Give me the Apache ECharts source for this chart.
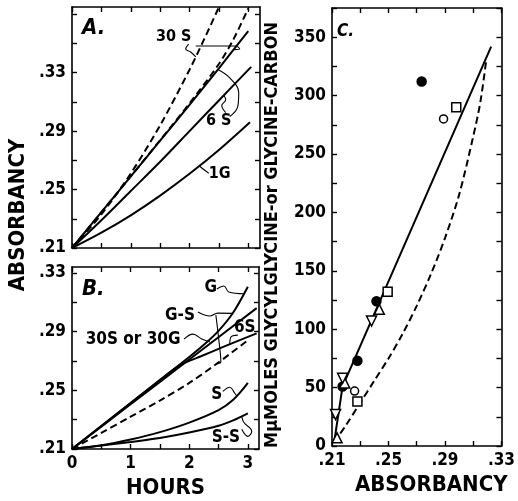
<!DOCTYPE html>
<html>
<head>
<meta charset="utf-8">
<script src="https://cdn.jsdelivr.net/npm/echarts@6/dist/echarts.min.js"></script>
<style>html,body{margin:0;padding:0;background:#fff}#c{width:518px;height:501px}</style>
</head>
<body>
<div id="c"></div>
<script>
// ---------- tick values / labels ----------
const aXTicks = [0, 0.5, 1, 1.5, 2, 2.5, 3];
const aYTicks = [0.21, 0.23, 0.25, 0.27, 0.29, 0.31, 0.33, 0.35, 0.37];
const aYLabels = [0.21, 0.25, 0.29, 0.33];
const bXTicks = [0, 0.5, 1, 1.5, 2, 2.5, 3];
const bXLabels = [0, 1, 2, 3];
const bYTicks = [0.21, 0.23, 0.25, 0.27, 0.29, 0.31, 0.33];
const bYLabels = [0.21, 0.25, 0.29, 0.33];
const cXTicks = [0.21, 0.23, 0.25, 0.27, 0.29, 0.31, 0.33];
const cXLabels = [0.21, 0.25, 0.29, 0.33];
const cYTicks = [0, 25, 50, 75, 100, 125, 150, 175, 200, 225, 250, 275, 300, 325, 350, 375];
const cYLabels = [0, 50, 100, 150, 200, 250, 300, 350];

// ---------- Panel A curves (hours, absorbancy) ----------
const aDash1H = [0, 0.5, 1, 1.5, 2, 2.25, 2.49];
const aDash1V = [0.21, 0.233, 0.261, 0.294, 0.332, 0.353, 0.374];
const aDash2H = [0, 0.5, 1, 1.5, 2, 2.5, 2.75, 3.0];
const aDash2V = [0.21, 0.2345, 0.259, 0.2838, 0.309, 0.336, 0.353, 0.374];
const aUpperH = [0, 0.5, 1, 1.5, 2, 2.5, 3.0];
const aUpperV = [0.21, 0.2345, 0.259, 0.2835, 0.308, 0.333, 0.3585];
const a6SH = [0, 0.5, 1, 1.5, 2, 2.5, 3.05];
const a6SV = [0.21, 0.229, 0.249, 0.269, 0.29, 0.311, 0.334];
const a1GH = [0, 0.5, 1, 1.5, 2, 2.5, 3.03];
const a1GV = [0.21, 0.2205, 0.2324, 0.2459, 0.2608, 0.2771, 0.2961];

// ---------- Panel B curves ----------
const bGH = [0, 0.5, 1, 1.5, 2, 2.25, 2.5, 2.75, 3.0];
const bGV = [0.21, 0.2257, 0.2413, 0.257, 0.2727, 0.281, 0.2905, 0.303, 0.3206];
const bGSH = [0, 1, 2, 3.15];
const bGSV = [0.21, 0.2405, 0.271, 0.306];
const b6SH = [0, 0.5, 1, 1.5, 1.84, 2.2, 2.6, 3.15];
const b6SV = [0.21, 0.2257, 0.2413, 0.257, 0.2672, 0.2732, 0.2799, 0.2888];
const bDashH = [0, 0.5, 1, 1.5, 2, 2.5, 3.03];
const bDashV = [0.21, 0.221, 0.232, 0.243, 0.255, 0.269, 0.285];
const bSH = [0, 0.5, 1, 1.5, 2, 2.5, 2.75, 3.0];
const bSV = [0.21, 0.2125, 0.2165, 0.2215, 0.228, 0.2365, 0.2435, 0.255];
const bSSH = [0, 0.5, 1, 1.5, 2, 2.5, 2.75, 3.0];
const bSSV = [0.21, 0.2123, 0.2148, 0.2175, 0.2212, 0.2258, 0.2295, 0.2343];

// ---------- Panel C (absorbancy, mumoles) ----------
const cLineX = [0.2115, 0.2175, 0.3227];
const cLineY = [3, 51, 342];
const cDashX = [0.2114, 0.22, 0.23, 0.24, 0.25, 0.26, 0.27, 0.28, 0.29, 0.30, 0.31, 0.315, 0.3193];
const cDashY = [3, 18, 37, 56, 75, 96, 120, 147, 178, 215, 265, 294, 331];
const cFilledX = [0.2175, 0.228, 0.2415, 0.2735];
const cFilledY = [51, 73, 124, 312];
const cOpenX = [0.226, 0.289];
const cOpenY = [47, 280];
const cSquareX = [0.228, 0.2494, 0.298];
const cSquareY = [38, 132, 290];
const cTriUpX = [0.2136, 0.219, 0.2435];
const cTriUpY = [7, 54, 117];
const cTriDownX = [0.2125, 0.2175, 0.238];
const cTriDownY = [27, 58, 107];

// ---------- annotation labels & leaders (data coords) ----------
const aLabelText = ['30 S', '6 S', '1G'];
const aLabelH = [1.731, 2.497, 2.514];
const aLabelV = [0.3544, 0.2972, 0.2605];
const aLeaders = [
  [[1.986, 0.3496], [1.935, 0.3462], [2.02, 0.3442], [2.106, 0.3408]],
  [[2.106, 0.3483], [2.787, 0.3483], [2.855, 0.3462], [2.753, 0.3458]],
  [[2.685, 0.300], [2.821, 0.3068], [2.838, 0.3163], [2.685, 0.3265], [2.48, 0.3322]],
  [[2.617, 0.3027], [2.549, 0.3075], [2.617, 0.3115], [2.583, 0.3146]],
  [[2.327, 0.2612], [2.259, 0.2632], [2.174, 0.2660]]
];
const bLabelText = ['G', 'G-S', '30S or 30G', '6S', 'S', 'S-S'];
const bLabelH = [2.369, 1.842, 1.043, 2.947, 2.471, 2.624];
const bLabelV = [0.3197, 0.3012, 0.2848, 0.2924, 0.2473, 0.2179];
const bLeaders = [
  [[2.471, 0.319], [2.59, 0.3211], [2.675, 0.317], [2.93, 0.3158]],
  [[2.148, 0.3033], [2.352, 0.3006], [2.488, 0.3026], [2.743, 0.3024]],
  [[2.454, 0.3012], [2.505, 0.2842], [2.539, 0.2692], [2.47, 0.2682]],
  [[1.91, 0.2849], [2.063, 0.2883], [2.216, 0.2849], [2.352, 0.283]],
  [[2.828, 0.2876], [2.709, 0.2862], [2.692, 0.2813]],
  [[2.573, 0.2493], [2.692, 0.2521], [2.777, 0.248], [2.811, 0.2461]],
  [[2.896, 0.2234], [2.998, 0.2186], [3.066, 0.222], [2.93, 0.2282], [2.896, 0.2322]]
];

// ---------- build ----------
const FONT = "'DejaVu Sans Condensed','DejaVu Sans',sans-serif";
const zip = (a, b) => a.map((v, i) => [v, b[i]]);
const fmtAbs = v => Number(v).toFixed(2).replace(/^0/, '');

function axis(grid, pos, min, max, ticks, labels, fmt) {
  return {
    type: 'value', gridIndex: grid, position: pos, min: min, max: max,
    axisLine: { show: true, onZero: false, lineStyle: { color: '#000', width: 1.6 } },
    axisTick: { show: true, inside: true, length: 5, customValues: ticks, lineStyle: { color: '#000', width: 1.4 } },
    splitLine: { show: false },
    axisLabel: labels ? {
      show: true, customValues: labels, formatter: fmt, color: '#000',
      fontFamily: FONT, fontWeight: 'bold', fontSize: 17, margin: 6
    } : { show: false }
  };
}

const xAxes = [
  axis(0, 'bottom', 0, 3.2, aXTicks, null),
  axis(0, 'top', 0, 3.2, aXTicks, null),
  Object.assign(axis(1, 'bottom', 0, 3.19, bXTicks, bXLabels, v => String(v)), {
    name: 'HOURS', nameLocation: 'middle', nameGap: 28,
    nameTextStyle: { color: '#000', fontFamily: FONT, fontWeight: 'bold', fontSize: 22 }
  }),
  axis(1, 'top', 0, 3.19, bXTicks, null),
  Object.assign(axis(2, 'bottom', 0.21, 0.33, cXTicks, cXLabels, fmtAbs), {
    name: 'ABSORBANCY', nameLocation: 'middle', nameGap: 28,
    nameTextStyle: { color: '#000', fontFamily: FONT, fontWeight: 'bold', fontSize: 22, padding: [0, 0, 0, 29] }
  }),
  axis(2, 'top', 0.21, 0.33, cXTicks, null)
];
const yAxes = [
  axis(0, 'left', 0.21, 0.375, aYTicks, aYLabels, fmtAbs),
  axis(0, 'right', 0.21, 0.375, aYTicks, null),
  axis(1, 'left', 0.21, 0.334, bYTicks, bYLabels, fmtAbs),
  axis(1, 'right', 0.21, 0.334, bYTicks, null),
  axis(2, 'left', 0, 375, cYTicks, cYLabels, v => String(v)),
  axis(2, 'right', 0, 375, cYTicks, null)
];

function curve(xi, h, v, dashed, smooth) {
  return {
    type: 'line', xAxisIndex: xi, yAxisIndex: xi, data: zip(h, v),
    symbol: 'none', smooth: smooth === undefined ? 0.3 : smooth, silent: true,
    lineStyle: { color: '#000', width: 2, type: dashed ? [7, 4] : 'solid', opacity: 1 },
    z: 3
  };
}
function leader(xi, pts) {
  return {
    type: 'line', xAxisIndex: xi, yAxisIndex: xi, data: pts, symbol: 'none', smooth: 0.4, silent: true,
    lineStyle: { color: '#000', width: 1.1, opacity: 1 }, z: 3
  };
}
function labels(xi, txt, h, v, size) {
  return {
    type: 'scatter', xAxisIndex: xi, yAxisIndex: xi, symbolSize: 0, silent: true,
    itemStyle: { color: '#000', opacity: 1 },
    data: txt.map((t, i) => ({ name: t, value: [h[i], v[i]] })),
    label: { show: true, position: 'inside', formatter: '{b}', color: '#000', opacity: 1,
      textBorderWidth: 0, fontFamily: FONT, fontWeight: 'bold', fontSize: size },
    z: 5
  };
}
function markers(xs, ys, symbol, size, fill, rotate) {
  return {
    type: 'scatter', xAxisIndex: 4, yAxisIndex: 4, data: zip(xs, ys), silent: true,
    symbol: symbol, symbolSize: size, symbolRotate: rotate || 0,
    itemStyle: { color: fill, borderColor: '#000', borderWidth: 1.5, opacity: 1 }, z: 6
  };
}

const series = [
  curve(0, aDash1H, aDash1V, true),
  curve(0, aDash2H, aDash2V, true),
  curve(0, aUpperH, aUpperV, false),
  curve(0, a6SH, a6SV, false),
  curve(0, a1GH, a1GV, false),
  ...aLeaders.map(p => leader(0, p)),
  labels(0, aLabelText, aLabelH, aLabelV, 16),

  curve(2, bGH, bGV, false),
  curve(2, bGSH, bGSV, false),
  curve(2, b6SH, b6SV, false, 0.2),
  curve(2, bDashH, bDashV, true),
  curve(2, bSH, bSV, false),
  curve(2, bSSH, bSSV, false),
  ...bLeaders.map(p => leader(2, p)),
  labels(2, bLabelText, bLabelH, bLabelV, 17),

  curve(4, cLineX, cLineY, false, 0),
  curve(4, cDashX, cDashY, true),
  markers(cFilledX, cFilledY, 'circle', 9, '#000'),
  markers(cOpenX, cOpenY, 'circle', 8, '#fff'),
  markers(cSquareX, cSquareY, 'rect', 9, '#fff'),
  markers(cTriUpX, cTriUpY, 'triangle', 10, '#fff'),
  markers(cTriDownX, cTriDownY, 'triangle', 10, '#fff', 180)
];

const titleStyle = (text, x, y, size) => ({
  type: 'text', x: x, y: y,
  style: { text: text, fill: '#000', font: 'italic bold ' + size + 'px ' + FONT, verticalAlign: 'middle', align: 'left' }
});

const chart = echarts.init(document.getElementById('c'), null, { renderer: 'canvas' });
chart.setOption({
  animation: false,
  backgroundColor: '#fff',
  grid: [
    { left: 72, top: 7, width: 188, height: 241 },
    { left: 72, top: 267, width: 187, height: 182 },
    { left: 332, top: 8, width: 176, height: 443 }
  ],
  xAxis: xAxes,
  yAxis: yAxes,
  series: series,
  graphic: [
    titleStyle('A.', 82, 28, 22),
    titleStyle('B.', 82, 289, 22),
    titleStyle('C.', 337, 32, 17),
    { type: 'text', x: 18, y: 215, rotation: Math.PI / 2,
      style: { text: 'ABSORBANCY', fill: '#000', font: 'bold 22px ' + FONT, align: 'center', verticalAlign: 'middle' } },
    { type: 'text', x: 272, y: 235, rotation: Math.PI / 2,
      style: { text: 'M\u03bcMOLES GLYCYLGLYCINE-or GLYCINE-CARBON', fill: '#000', font: 'bold 18px ' + FONT, align: 'center', verticalAlign: 'middle' } }
  ]
});
</script>
</body>
</html>
